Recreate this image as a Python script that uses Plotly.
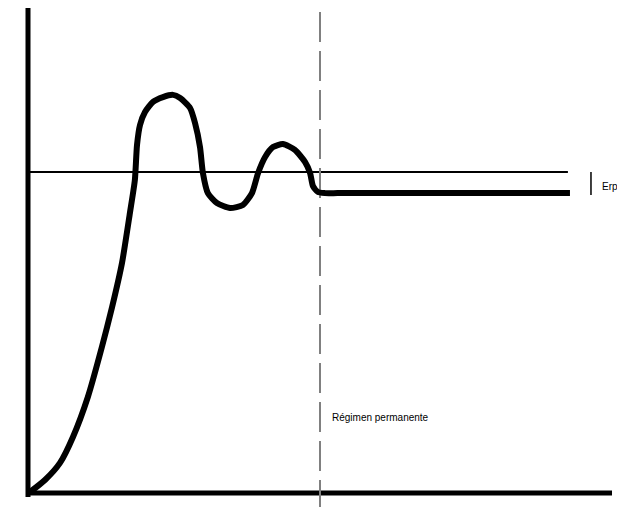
import plotly.graph_objects as go

# Step response (time in arbitrary units, response normalised to reference = 1)
t_resp = [0.7, 5.8, 10.96, 15.4, 20.5, 25.3, 28.8, 32.2, 34.9, 36.6, 37.33, 38.36, 40.07,
          42.81, 46.23, 49.66, 52.1, 55.5, 57.2, 58.9, 59.9, 61.6, 64.7, 69.2, 73.6, 76.7,
          78.8, 81.2, 83.9, 87.3, 91.4, 94.9, 96.6, 97.6, 99.3, 101.7, 106.0, 130.0, 160.0,
          185.6]
y_resp = [0.0, 0.0375, 0.091, 0.172, 0.297, 0.453, 0.578, 0.716, 0.872, 0.975, 1.084,
          1.147, 1.1875, 1.219, 1.234, 1.241, 1.231, 1.2, 1.153, 1.078, 0.997, 0.934,
          0.903, 0.8875, 0.897, 0.934, 0.997, 1.047, 1.078, 1.0875, 1.069, 1.031, 0.997,
          0.956, 0.9375, 0.934, 0.934, 0.934, 0.934, 0.934]

reference_level = 1.0
steady_level = 0.934
t_settle = 100.0
t_ref_end = 184.9
t_axis_end = 200.0
t_erp = 192.8
y_axis_top = 1.516

label_regimen = "Régimen permanente"
label_erp = "Erp"

fig = go.Figure()

# axes drawn as thick lines
fig.add_trace(go.Scatter(x=[0, 0], y=[-0.016, y_axis_top], mode="lines",
                         line=dict(color="black", width=5), hoverinfo="skip"))
fig.add_trace(go.Scatter(x=[0, t_axis_end], y=[-0.003, -0.003], mode="lines",
                         line=dict(color="black", width=5), hoverinfo="skip"))

# reference line
fig.add_trace(go.Scatter(x=[0, t_ref_end], y=[reference_level, reference_level], mode="lines",
                         line=dict(color="black", width=2), hoverinfo="skip"))

# dashed settling marker
fig.add_trace(go.Scatter(x=[t_settle, t_settle], y=[1.5, -0.047], mode="lines",
                         line=dict(color="#808080", width=2, dash="30px,9px"), hoverinfo="skip"))

# response curve
fig.add_trace(go.Scatter(x=t_resp, y=y_resp, mode="lines",
                         line=dict(color="black", width=6, shape="spline", smoothing=0.6),
                         hoverinfo="skip"))

# Erp marker
fig.add_trace(go.Scatter(x=[t_erp, t_erp], y=[reference_level, steady_level - 0.006], mode="lines",
                         line=dict(color="black", width=1.5), hoverinfo="skip"))

fig.add_trace(go.Scatter(x=[196.6], y=[0.953], mode="text", text=[label_erp],
                         textposition="middle right", cliponaxis=False,
                         textfont=dict(family="Arial", size=10, color="black"), hoverinfo="skip"))
fig.add_annotation(x=103.4, y=0.234, text=label_regimen, showarrow=False, xanchor="left",
                   yanchor="middle", font=dict(family="Arial", size=10, color="black"))

# figure sits 8px in from the page's top-left; ranges map it onto the window pixels
fig.update_layout(
    width=617, height=499,
    margin=dict(l=0, r=0, t=0, b=0),
    paper_bgcolor="white", plot_bgcolor="white",
    showlegend=False,
    xaxis=dict(range=[-6.849, 204.45], visible=False, showgrid=False, zeroline=False),
    yaxis=dict(range=[-0.046875, 1.5125], visible=False, showgrid=False, zeroline=False),
)

fig.write_html("out.html")
